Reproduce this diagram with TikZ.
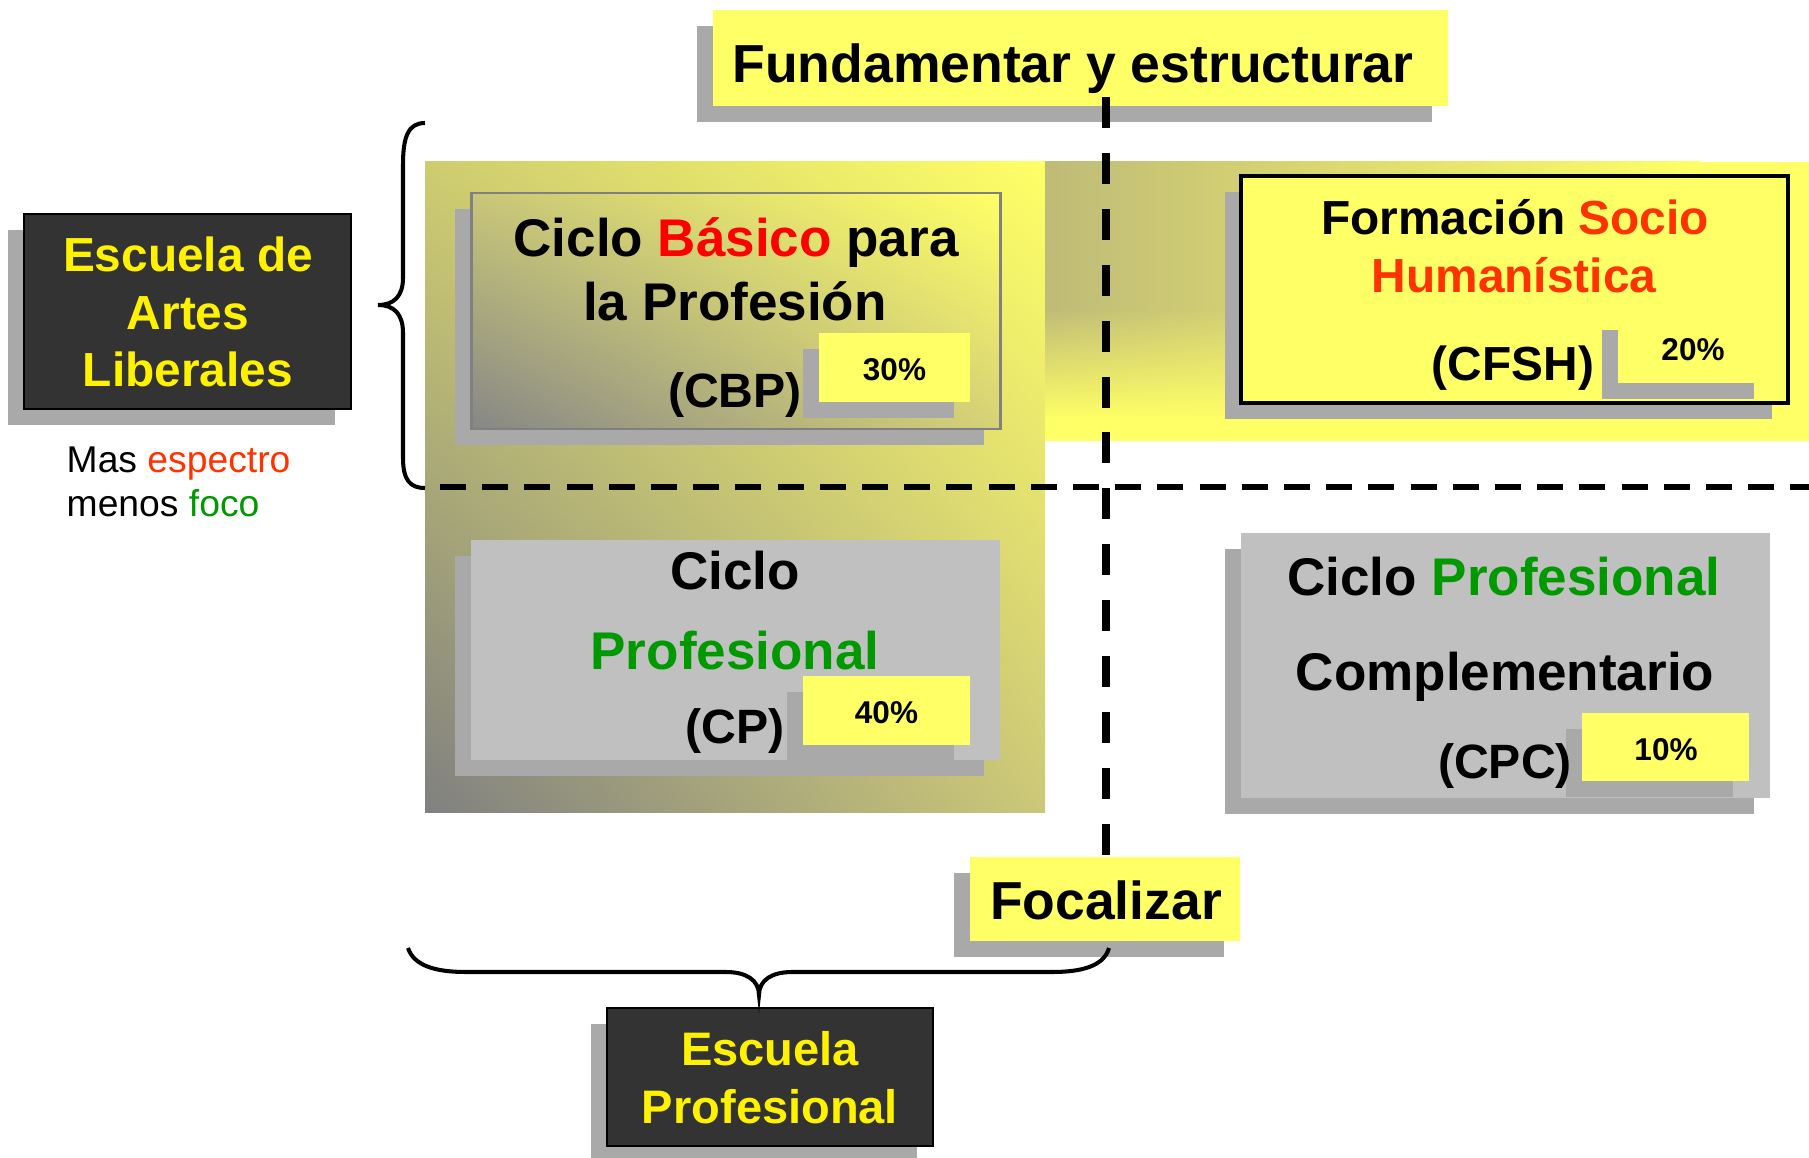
\documentclass[tikz,border=0pt]{standalone}
\usepackage{fontspec}
\setmainfont{Liberation Sans}
\usetikzlibrary{fit,shadows,calc,shadings}
\definecolor{ylw}{HTML}{FFFF66}
\definecolor{shd}{HTML}{A9A9A9}
\definecolor{dark}{HTML}{333333}
\definecolor{gbox}{HTML}{C0C0C0}
\definecolor{redor}{HTML}{FF3300}
\definecolor{grn}{HTML}{009900}
\definecolor{pured}{HTML}{FF0000}
\definecolor{olvA}{HTML}{CECC70}
\definecolor{olvB}{HTML}{CCC878}
\definecolor{grayA}{HTML}{808080}
\definecolor{olvC}{HTML}{BFBB78}
\definecolor{cbpUL}{HTML}{C8C678}
\definecolor{cbpLL}{HTML}{868686}
\definecolor{cbpLR}{HTML}{D6D276}
\definecolor{brd}{HTML}{808080}
\begin{document}
\begin{tikzpicture}[x=0.01cm,y=-0.01cm,
  shad/.style={drop shadow={shadow xshift=-0.16cm,shadow yshift=-0.16cm,fill=shd,opacity=1}},
  bx/.style={inner sep=0pt,outer sep=0pt},
  lbl/.style={anchor=base,inner sep=0pt,font=\bfseries\fontsize{15.08pt}{18pt}\selectfont},
  abbr/.style={anchor=base,inner sep=0pt,font=\bfseries\fontsize{13.7pt}{16pt}\selectfont},
  cfs/.style={anchor=base,inner sep=0pt,font=\bfseries\fontsize{13.6pt}{16pt}\selectfont},
  ttl/.style={anchor=base,inner sep=0pt,font=\bfseries\fontsize{15.22pt}{18pt}\selectfont},
  ela/.style={anchor=base,inner sep=0pt,text=yellow,font=\bfseries\fontsize{13.6pt}{16pt}\selectfont},
  pct/.style={anchor=base,inner sep=0pt,font=\bfseries\fontsize{8.96pt}{10pt}\selectfont},
  mas/.style={anchor=base west,inner sep=0pt,font=\fontsize{10.6pt}{12pt}\selectfont},
  vdash/.style={line width=2pt,dash pattern=on 8.8pt off 7.1pt},
  hdash/.style={line width=1.7pt,dash pattern=on 7.4pt off 4.6pt},
  brace/.style={line width=1.15pt}
]
\useasboundingbox (0,0) rectangle (1809,1158);
\fill[white] (0,0) rectangle (1809,1158);

% background bands
\shade[upper left=olvA,upper right=ylw,lower left=grayA,lower right=olvB] (425,162) rectangle (1045,812);
\fill[ylw] (1045,162) rectangle (1809,441);
\shade[left color=olvC,right color=ylw] (1045,162) rectangle (1700,310);
\shade[upper left=olvC,upper right=ylw,lower left=ylw,lower right=ylw] (1045,309) rectangle (1700,420);

% title
\node[bx,fill=ylw,shad,fit={(713,10)(1448,106)}] (title) {};
\node[ttl] (titletxt) at (1073,83) {Fundamentar y estructurar};

% left school box
\node[bx,fill=dark,draw=black,line width=0.6pt,shad,fit={(24,214)(351,409)}] (ela) {};
\node[ela] (ela1) at (188,272) {Escuela de};
\node[ela] (ela2) at (188,330) {Artes};
\node[ela] (ela3) at (188,387) {Liberales};
\node[mas] (mas1) at (66,472) {Mas \textcolor{redor}{espectro}};
\node[mas] (mas2) at (66,517) {menos \textcolor{grn}{foco}};

% CBP
\node[bx,draw=brd,line width=0.85pt,upper left=cbpUL,upper right=ylw,lower left=cbpLL,lower right=cbpLR,shad,fit={(471,193)(1000,429)}] (cbp) {};
\node[bx,fill=ylw,shad,fit={(819,333)(970,402)}] (p30) {};
\node[lbl] (cbp1) at (736,257) {Ciclo \textcolor{pured}{Básico} para};
\node[lbl] (cbp2) at (735,321) {la Profesión};
\node[abbr] (cbp3) at (735,408) {(CBP)};
\node[pct] (p30t) at (894.5,381) {30\%};

% CP
\node[bx,fill=gbox,shad,fit={(471,540)(1000,760)}] (cp) {};
\node[bx,fill=ylw,shad,fit={(803,676)(970,745)}] (p40) {};
\node[lbl] (cp1) at (735,589) {Ciclo};
\node[lbl,text=grn] (cp2) at (735,669) {Profesional};
\node[abbr] (cp3) at (735,743) {(CP)};
\node[pct] (p40t) at (886.5,723) {40\%};

% CFSH
\node[bx,fill=ylw,draw=black,line width=1.1pt,shad,fit={(1241,176)(1788,403)}] (cfsh) {};
\node[bx,fill=ylw,shad,fit={(1618,314)(1770,383)}] (p20) {};
\node[cfs] (cf1) at (1515,235) {Formación \textcolor{redor}{Socio}};
\node[cfs,text=redor] (cf2) at (1514,293) {Humanística};
\node[cfs] (cf3) at (1513,381) {(CFSH)};
\node[pct] (p20t) at (1693,361) {20\%};

% CPC
\node[bx,fill=gbox,shad,fit={(1241,533)(1770,798)}] (cpc) {};
\node[bx,fill=ylw,shad,fit={(1582,713)(1749,781)}] (p10) {};
\node[lbl] (cpc1) at (1504,595) {Ciclo \textcolor{grn}{Profesional}};
\node[lbl] (cpc2) at (1505,690) {Complementario};
\node[abbr] (cpc3) at (1505,778) {(CPC)};
\node[pct] (p10t) at (1666,760) {10\%};

% Focalizar
\node[bx,fill=ylw,shad,fit={(970,857)(1240,941)}] (focal) {};
\node[lbl,font=\bfseries\fontsize{15.2pt}{18pt}\selectfont] (focaltxt) at (1106,919) {Focalizar};

% Escuela Profesional
\node[bx,fill=dark,draw=black,line width=0.6pt,shad,fit={(607,1008)(933,1146)}] (ep) {};
\node[ela,font=\bfseries\fontsize{13.37pt}{16pt}\selectfont] (ep1) at (770,1065) {Escuela};
\node[ela,font=\bfseries\fontsize{13.37pt}{16pt}\selectfont] (ep2) at (770,1123) {Profesional};

% dashed axes
\coordinate (vtop) at (1106,97);
\draw[vdash] (vtop) -- (vtop |- focal.north);
\coordinate (hl) at (440,487);
\coordinate (hr) at (1809,487);
\draw[hdash] (hl) -- (hr);

% braces
\draw[brace] (425,123) .. controls (408,123) and (403,137) .. (403,165) -- (403,278)
  .. controls (403,296) and (394,305) .. (378,305)
  .. controls (394,305) and (403,314) .. (403,333) -- (403,458)
  .. controls (403,480) and (410,488) .. (425,488);
\draw[brace] (408,948) .. controls (414,966) and (436,972) .. (466,972) -- (726,972)
  .. controls (746,972) and (759,980) .. (759,995)
  .. controls (759,980) and (772,972) .. (792,972) -- (1052,972)
  .. controls (1082,972) and (1104,966) .. (1109,948);
\end{tikzpicture}
\end{document}
